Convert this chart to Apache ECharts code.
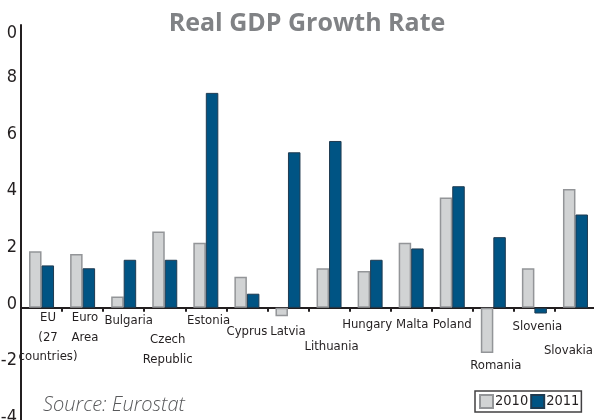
<!DOCTYPE html>
<html>
<head>
<meta charset="utf-8">
<script src="https://cdn.jsdelivr.net/npm/echarts@6/dist/echarts.min.js"></script>
<style>
  html, body { margin: 0; padding: 0; background: #ffffff; }
  #chart { width: 594px; height: 420px; }
</style>
</head>
<body>
<div id="chart"></div>
<script>
// Real GDP growth rate (%), selected EU members, 2010 vs 2011
const categories = ['EU\n(27\ncountries)', 'Euro\nArea', 'Bulgaria', 'Czech\nRepublic', 'Estonia', 'Cyprus',
  'Latvia', 'Lithuania', 'Hungary', 'Malta', 'Poland', 'Romania', 'Slovenia', 'Slovakia'];
const growth2010 = [2.0, 1.9, 0.4, 2.7, 2.3, 1.1, -0.3, 1.4, 1.3, 2.3, 3.9, -1.6, 1.4, 4.2];
const growth2011 = [1.5, 1.4, 1.7, 1.7, 7.6, 0.5, 5.5, 5.9, 1.7, 2.1, 4.3, 2.5, -0.2, 3.3];
const seriesNames = ['2010', '2011'];
const yTickLabels = { '-4': '-4', '-2': '-2', '0': '0', '2': '2', '4': '4', '6': '6', '8': '8', '10': '0' };
const yMin = -4, yMax = 10, yStep = 2;

// staggered placement of the country names under the zero line (px)
const labelDrop = [0.5, 0.5, 3.5, 22.5, 3.5, 14, 14, 29.5, 7.5, 7.5, 7.5, 48, 9, 33.5];
const labelShift = [6.5, 2.4, 5, 3, 2.7, 0, 0, 2.5, -3, 1, 0, 2.5, 3, -7];

const narrow = "'Liberation Sans Narrow', 'DejaVu Sans Condensed', sans-serif";

const categoryItems = categories.map((name, i) => {
  const d = labelShift[i];
  return {
    value: name,
    textStyle: {
      padding: [labelDrop[i], d < 0 ? -2 * d : 0, 0, d > 0 ? 2 * d : 0]
    }
  };
});

const chart = echarts.init(document.getElementById('chart'), null, { renderer: 'canvas' });

chart.setOption({
  animation: false,
  backgroundColor: '#ffffff',
  title: {
    text: 'Real GDP Growth Rate',
    left: 302,
    textAlign: 'center',
    top: 6,
    textStyle: {
      fontFamily: "'Open Sans', sans-serif",
      fontWeight: 'bold',
      fontSize: 25,
      color: '#808285'
    }
  },
  legend: {
    data: seriesNames,
    left: 475,
    top: 391,
    width: 140,
    orient: 'horizontal',
    itemWidth: 13,
    itemHeight: 13,
    itemGap: 2,
    padding: [3, 2, 3, 4],
    borderColor: '#414042',
    borderWidth: 1.5,
    icon: 'rect',
    textStyle: {
      fontFamily: narrow,
      fontSize: 14.5,
      color: '#231f20',
      padding: [0, 0, 0, -3]
    }
  },
  grid: {
    left: 21,
    right: -2,
    top: 25,
    bottom: -1,
    outerBoundsMode: 'none',
    containLabel: false
  },
  xAxis: {
    type: 'category',
    data: categoryItems,
    boundaryGap: true,
    axisLine: { onZero: true, lineStyle: { color: '#231f20', width: 2 } },
    axisTick: { show: true, length: 4, lineStyle: { color: '#231f20', width: 2 } },
    axisLabel: {
      interval: 0,
      hideOverlap: false,
      margin: 0,
      fontFamily: narrow,
      fontSize: 13,
      lineHeight: 19.5,
      color: '#231f20',
      verticalAlign: 'top'
    },
    splitLine: { show: false }
  },
  yAxis: {
    type: 'value',
    min: yMin,
    max: yMax,
    interval: yStep,
    axisLine: { show: true, lineStyle: { color: '#231f20', width: 2 } },
    axisTick: { show: false },
    splitLine: { show: false },
    axisLabel: {
      margin: 4,
      fontFamily: narrow,
      fontSize: 18,
      color: '#231f20',
      formatter: (v) => (v === yMax ? '{top|' + yTickLabels[v] + '}' : '{n|' + yTickLabels[String(v)] + '}'),
      rich: {
        n: { fontFamily: narrow, fontSize: 18, color: '#231f20', padding: [0, 0, 8, 0] },
        top: { fontFamily: narrow, fontSize: 18, color: '#231f20', padding: [16, 0, 0, 0] }
      }
    }
  },
  series: [
    {
      name: seriesNames[0],
      type: 'bar',
      data: growth2010,
      barWidth: 12.5,
      barGap: '0%',
      itemStyle: { color: '#d1d3d4', borderColor: '#939598', borderWidth: 1.5 }
    },
    {
      name: seriesNames[1],
      type: 'bar',
      data: growth2011,
      barWidth: 12.5,
      barGap: '0%',
      itemStyle: { color: '#005484', borderColor: '#1f3a50', borderWidth: 1 }
    }
  ],
  graphic: [
    {
      type: 'text',
      left: 43,
      top: 395,
      style: {
        text: 'Source: Eurostat',
        fontFamily: "'Open Sans', sans-serif",
        fontStyle: 'italic',
        fontWeight: 300,
        fontSize: 20,
        fill: '#58595b'
      }
    }
  ]
});

// Country names hang from the zero line rather than the bottom of the plot:
// pull them up by the distance between the two on the value axis.
const zeroY = chart.convertToPixel({ yAxisIndex: 0 }, 0);
const bottomY = chart.convertToPixel({ yAxisIndex: 0 }, yMin);
chart.setOption({ xAxis: { axisLabel: { margin: zeroY - bottomY } } });
</script>
</body>
</html>
